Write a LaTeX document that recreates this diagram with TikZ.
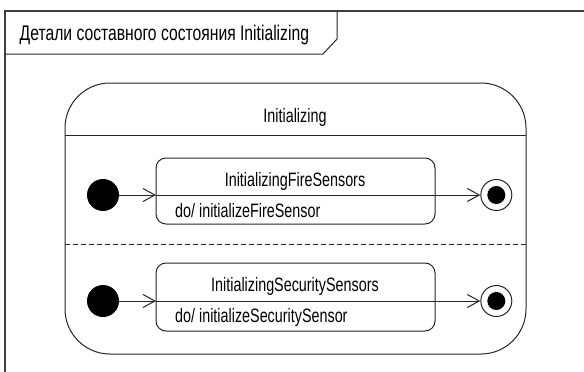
\documentclass[tikz,border=0pt]{standalone}
\usepackage{fontspec}
\setmainfont{Liberation Sans}[FakeStretch=0.74]
\usetikzlibrary{arrows.meta}
\tikzset{
  ln/.style={draw=black!85, line width=1pt},
  lbl/.style={inner sep=0pt, font=\fontsize{19.4}{22}\selectfont},
  titlelbl/.style={inner sep=0pt, font=\fontsize{21.2}{24}\selectfont},
  statebox/.style={ln, rounded corners=10pt, minimum width=279pt, minimum height=66pt, inner sep=0pt},
  initdot/.style={circle, fill=black, minimum size=32pt, inner sep=0pt},
  finalring/.style={circle, ln, fill=white, minimum size=31pt, inner sep=0pt},
  finaldot/.style={circle, fill=black, minimum size=18pt, inner sep=0pt},
  trans/.style={ln, -{Straight Barb[length=12pt,width=13pt,line width=1pt]}},
}
\begin{document}
\begin{tikzpicture}[x=1pt,y=-1pt]
\useasboundingbox (0,0) rectangle (584,372);
% frame
\draw[draw=black!75, line width=1.3pt] (5,372) -- (5,11) -- (584,11);
\draw[ln] (5,54) -- (323,54) -- (337,39) -- (337,11);
\node[titlelbl, anchor=base west] (title) at (19.5,40.5) {Детали составного состояния Initializing};
% composite state
\node[ln, rounded corners=45pt, minimum width=461pt, minimum height=271pt, inner sep=0pt] (comp) at (295.5,218.5) {};
\coordinate (hl) at (65,135);
\coordinate (hr) at (526,135);
\draw[ln] (hl) -- (hr);
\node[lbl, anchor=base] (compname) at (295,122) {Initializing};
\coordinate (dl) at (65,244);
\coordinate (dr) at (526,244);
\draw[ln, dash pattern=on 5pt off 3pt] (dl) -- (dr);
% region 1
\node[statebox] (s1) at (295.5,191) {};
\node[lbl, anchor=base] (s1name) at (295,186) {InitializingFireSensors};
\node[lbl, anchor=base west] (s1do) at (175,217) {do/ initializeFireSensor};
\node[initdot] (i1) at (103,195) {};
\node[finalring] (f1) at (496.3,195) {};
\node[finaldot] (f1d) at (496.3,195) {};
\coordinate (s1w) at (156,195);
\coordinate (s1e) at (435,195);
\draw[trans] (i1) -- (s1w);
\draw[ln] (s1w) -- (s1e);
\draw[trans] (s1e) -- (f1);
% region 2
\node[statebox, minimum height=68pt] (s2) at (295.5,297) {};
\node[lbl, anchor=base] (s2name) at (295,291) {InitializingSecuritySensors};
\node[lbl, anchor=base west] (s2do) at (175,322.5) {do/ initializeSecuritySensor};
\node[initdot] (i2) at (103,301) {};
\node[finalring] (f2) at (496.3,301) {};
\node[finaldot] (f2d) at (496.3,301) {};
\coordinate (s2w) at (156,301);
\coordinate (s2e) at (435,301);
\draw[trans] (i2) -- (s2w);
\draw[ln] (s2w) -- (s2e);
\draw[trans] (s2e) -- (f2);
\end{tikzpicture}
\end{document}
